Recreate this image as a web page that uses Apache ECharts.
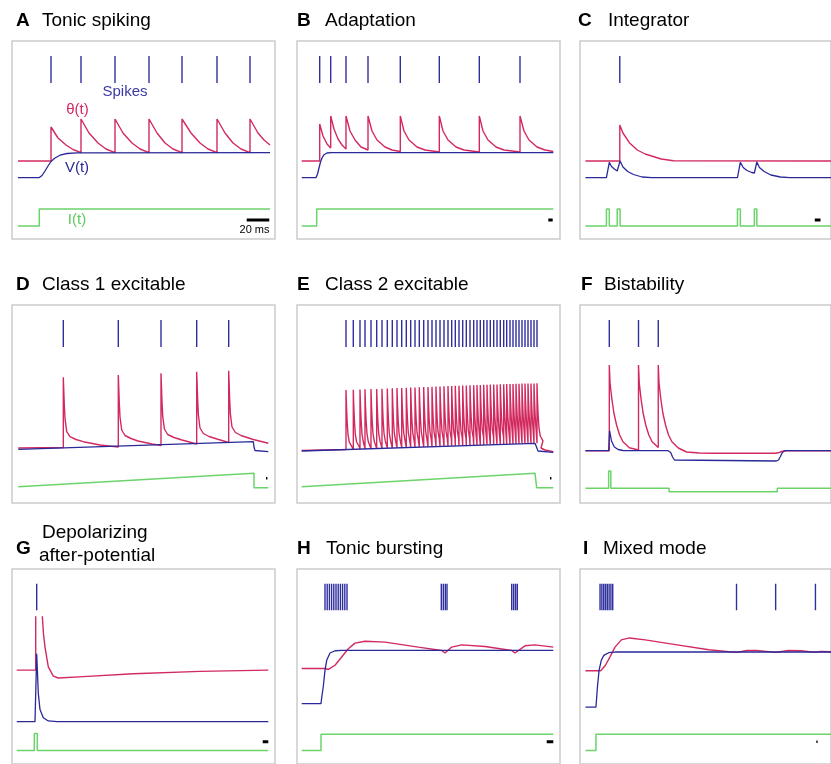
<!DOCTYPE html>
<html>
<head>
<meta charset="utf-8">
<script src="https://cdn.jsdelivr.net/npm/echarts@6/dist/echarts.min.js"></script>
<style>
  html, body { margin: 0; background: #fff; }
  #neuronChart { width: 831px; height: 764px; }
</style>
</head>
<body>
<div id="neuronChart"></div>
<script>
// every trace: [time, value] in panel units (time 0..263, value 0..198)

// A  Tonic spiking
const aSpikes = [39, 69, 103, 137, 170, 205, 238];
const aTheta = [[6, 78], [39, 78], [39, 112], [46, 101], [54, 94], [61, 89.5], [69, 86.3],
  [69, 120], [77, 106], [86, 96], [94, 90], [103, 86.3],
  [103, 120], [111, 106], [120, 96], [128, 90], [137, 86.3],
  [137, 120], [145, 106], [153, 96], [161, 90], [170, 86.3],
  [170, 120], [179, 106], [188, 96], [196, 90], [205, 86.3],
  [205, 120], [213, 106], [221, 96], [229, 90], [238, 86.3],
  [238, 120], [246, 106], [252, 99], [258, 94]];
const aV = [[6, 61.3], [27, 61.3], [30, 63.5], [33, 68], [36, 73], [39, 77.5], [43, 81], [48, 83.8], [55, 85.5], [65, 86.2], [258, 86.3]];
const aI = [[6, 13], [27.3, 13], [27.3, 30], [258, 30]];
const aScale = [[234.7, 19], [257.3, 19]];

// B  Adaptation
const bSpikes = [22.7, 33.7, 49, 71, 103.3, 142.3, 182.3, 223];
const bTheta = [[4.7, 78], [22.7, 78], [22.7, 115], [26, 103], [30, 95], [33.7, 91],
  [33.7, 123], [37, 110], [41, 100], [45, 94], [49, 90],
  [49, 123], [53, 108], [58, 99], [64, 92], [71, 89],
  [71, 123], [75, 108], [80, 99], [88, 92], [95, 89], [103.3, 87.5],
  [103.3, 123], [107, 108], [112, 99], [120, 92], [128, 89], [142.3, 87],
  [142.3, 123], [146, 108], [151, 99], [159, 92], [167, 89], [182.3, 87],
  [182.3, 123], [186, 108], [191, 99], [199, 92], [207, 89], [223, 87],
  [223, 123], [227, 108], [232, 99], [240, 92], [248, 89], [256.3, 87.5]];
const bV = [[4.7, 61.3], [19, 61.3], [20.5, 65], [22, 71], [23.5, 77], [25, 81], [27, 84.3], [30, 86], [34, 86.3], [256.3, 86.3]];
const bI = [[4.7, 13], [19.7, 13], [19.7, 30], [256.3, 30]];
const bScale = [[251.3, 19], [255.7, 19]];

// C  Integrator
const cSpikes = [41.7];
const cTheta = [[5.7, 78], [41.7, 78], [41.7, 114], [45, 106], [51.7, 96.3], [60, 89], [68.3, 85], [85, 80], [98, 78.3], [263, 78]];
const cV = [[5.7, 61.3], [27.7, 61.3], [30.7, 76.7], [33, 72.5], [36, 70], [39, 68], [42, 78], [45, 72], [50, 67.5], [56, 64.5], [65, 62], [75, 61.3],
  [165, 61.3], [168, 76.7], [171, 71.5], [175, 68.5], [180, 66.5], [182.7, 66], [185.3, 77], [188, 71.5], [193, 67.5], [200, 64], [210, 62], [220, 61.3], [263, 61.3]];
const cI = [[5.7, 13], [27.7, 13], [27.7, 30], [30.7, 30], [30.7, 13], [39, 13], [39, 30], [42, 30], [42, 13],
  [165, 13], [165, 30], [168, 30], [168, 13], [182.7, 13], [182.7, 30], [185.3, 30], [185.3, 13], [263, 13]];
const cScale = [[246, 19], [252, 19]];

// D  Class 1 excitable
const dSpikes = [51.3, 106.3, 149, 184.7, 216.7];
const dTheta = [[6.3, 55], [51.3, 55.5], [51.3, 125.7], [52.3, 98], [53, 84.7], [54.7, 71.3], [58, 66.3], [64, 63.5], [71.3, 61.3], [88, 58], [106.3, 56],
  [106.3, 128], [107.3, 100], [108, 86], [109.7, 73], [113, 67.5], [119, 64.5], [126, 62], [140, 59], [149, 57.5],
  [149, 129.7], [150, 101], [150.7, 87], [152.4, 74], [155.7, 68.5], [162, 65.5], [170, 63], [184.7, 59],
  [184.7, 131.3], [185.7, 102], [186.4, 88], [188, 75], [191.4, 69.5], [197, 66.5], [205, 64], [216.7, 60.5],
  [216.7, 132.3], [217.7, 103], [218.4, 89], [220, 76], [223.4, 70.5], [229, 67.5], [241.3, 63.5], [256.3, 59.7]];
const dV = [[6.3, 53.7], [241.3, 61.3], [242, 56], [243, 52.5], [245, 51.3], [256.3, 51.3]];
const dI = [[6.3, 16.3], [242, 29.7], [242, 15.3], [256.3, 15.3]];
const dScale = [[254, 24.7], [255.4, 24.7]];

// E  Class 2 excitable
const eSpikes = [49.0, 56.3, 63.0, 68.0, 74.0, 79.7, 85.0, 90.3, 95.3, 100.0,
  104.7, 109.3, 113.7, 118.0, 122.3, 126.7, 131.0, 135.0, 139.0, 143.0,
  147.0, 151.0, 154.7, 158.3, 162.0, 165.7, 169.3, 173.0, 176.7, 180.0,
  183.3, 186.7, 190.0, 193.3, 196.7, 200.0, 203.3, 206.7, 209.7, 213.0,
  216.0, 219.0, 222.0, 225.0, 228.0, 231.0, 234.0, 237.0, 240.0];
const ePeaks = [113.0, 113.2, 113.5, 113.7, 113.9, 114.1, 114.3, 114.5, 114.7, 114.9,
  115.1, 115.3, 115.5, 115.6, 115.8, 116.0, 116.1, 116.3, 116.4, 116.6,
  116.7, 116.9, 117.0, 117.2, 117.3, 117.4, 117.6, 117.7, 117.8, 117.9,
  118.0, 118.2, 118.3, 118.4, 118.5, 118.6, 118.7, 118.8, 118.9, 119.0,
  119.1, 119.2, 119.3, 119.4, 119.4, 119.5, 119.6, 119.6, 119.7];
const eFloors = [53.5, 53.7, 53.9, 54.1, 54.3, 54.5, 54.7, 54.9, 55.0, 55.2,
  55.3, 55.5, 55.6, 55.8, 55.9, 56.1, 56.2, 56.3, 56.5, 56.6,
  56.7, 56.9, 57.0, 57.1, 57.2, 57.4, 57.5, 57.6, 57.7, 57.8,
  57.9, 58.1, 58.2, 58.3, 58.4, 58.5, 58.6, 58.7, 58.8, 58.9,
  59.0, 59.1, 59.2, 59.3, 59.4, 59.5, 59.6, 59.7, 59.8];
// shape of one threshold decay: [time after spike, share of the jump left]
const eDecay = [[0.5, 0.72], [1.2, 0.45], [2, 0.25], [3.3, 0.12], [6, 0.04]];
const eThetaStart = [[4.7, 52.5]];
const eThetaTail = [[244, 55], [248, 53], [256.3, 51.3]];
const eV = [[4.7, 52], [238, 59.7], [239.5, 56], [241, 52], [243, 50.7], [256.3, 50.7]];
const eI = [[4.7, 16.3], [238, 29.7], [239.7, 29.7], [239.7, 15.3], [256.3, 15.3]];
const eScale = [[253, 24.7], [254.4, 24.7]];

// F  Bistability
const fSpikes = [30.7, 61.3, 82];
const fTheta = [[5.7, 52.3], [30.7, 52.3], [30.7, 138], [31.5, 120], [33.3, 104.7], [35.5, 90], [38.3, 78], [41.5, 68], [45, 61.3], [51.7, 55.3], [61.3, 53],
  [61.3, 138], [62.1, 120], [63.9, 104.7], [66.1, 90], [68.9, 78], [72.1, 68], [75.6, 61.3], [82, 55.5],
  [82, 138], [82.8, 120], [84.6, 104.7], [86.8, 90], [89.6, 78], [92.8, 68], [96.3, 61.3], [103, 55], [111.7, 51], [125, 50], [140, 49.7],
  [205, 49.7], [209, 50.5], [212, 51.8], [215, 52.3], [263, 52.3]];
const fV = [[5.7, 52.3], [30, 52.3], [31, 72.3], [33, 62], [36, 56], [40, 53.5], [45, 52.5], [92.3, 52.3], [95, 50.5], [97, 46], [99, 43], [101, 42],
  [205.7, 42], [208, 43], [210, 46.5], [212, 50.5], [215, 52.3], [263, 52.3]];
const fI = [[5.7, 14.7], [30, 14.7], [30, 32], [32.3, 32], [32.3, 14.7], [93.3, 14.7], [93.3, 11.3], [206.7, 11.3], [206.7, 14.7], [263, 14.7]];

// G  Depolarizing after-potential
const gSpikes = [24.7];
const gTheta = [[4.7, 95.3], [23.7, 95.3], [23.7, 150], [27, '-'], [30.3, 150], [31.5, 132], [33, 118.7], [36.3, 98.7], [41.3, 89.3], [46.3, 87.3],
  [71.3, 88.7], [121.3, 91.7], [188, 94], [256.3, 95.3]];
const gV = [[4.7, 43], [23, 43], [24.7, 112], [26.3, 72], [28, 55.3], [31.3, 47], [36.3, 43.7], [45, 43], [256.3, 43]];
const gI = [[4.7, 13.7], [22.3, 13.7], [22.3, 31], [25.3, 31], [25.3, 13.7], [256.3, 13.7]];
const gScale = [[250.7, 22.7], [256.3, 22.7]];

// H  Tonic bursting
const hSpikes = [28, 30.2, 32.4, 34.6, 36.8, 39, 41.2, 43.4, 45.6, 47.8, 50,
  144.3, 146.3, 148.3, 150, 214.7, 216.6, 218.5, 220.3];
const hTheta = [[4.7, 97], [28, 97], [31.3, 96], [38, 100.3], [44.7, 108.7], [51.3, 117], [58, 122.7], [68, 124.7], [88, 123.7], [121.3, 118.7],
  [144.7, 115.3], [148, 112.7], [154.7, 118.7], [164.7, 121], [188, 119.3], [214.7, 115.3], [218, 112.7], [228, 120], [238, 121], [256.3, 118.7]];
const hV = [[4.7, 61.3], [24, 61.3], [24.8, 68], [26.3, 78.7], [28, 95.3], [29.7, 105.3], [33, 112.7], [38, 115], [45, 115.3], [256.3, 115.3]];
const hI = [[4.7, 13.7], [24, 13.7], [24, 30.3], [256.3, 30.3]];
const hScale = [[249.7, 22.7], [256.3, 22.7]];

// I  Mixed mode
const iSpikes = [21, 22.9, 24.8, 26.7, 28.6, 30.5, 32.4, 34.3, 164, 205, 246.7];
const iTheta = [[5.7, 94.7], [21.7, 94.7], [26.7, 100.3], [31.7, 109.3], [36.7, 118.7], [43.3, 126], [51.7, 128], [68.3, 126], [101.7, 121], [135, 116],
  [164, 113.3], [175, 115.3], [185, 115.3], [205, 113.3], [218.3, 115.3], [231.7, 115], [246.7, 113.3], [251.7, 114.3], [263, 114]];
const iV = [[5.7, 57.7], [16.7, 57.7], [17.5, 68], [18.3, 78.7], [20, 95.3], [22.3, 105.3], [25, 110.3], [30, 113], [36.7, 113.7], [263, 113.7]];
const iI = [[5.7, 13.7], [16.7, 13.7], [16.7, 30.3], [263, 30.3]];
const iScale = [[247.6, 22.7], [249, 22.7]];

// build the dense threshold comb of panel E from its spike table
function buildETheta() {
  const pts = eThetaStart.slice();
  for (let k = 0; k < eSpikes.length; k++) {
    const t = eSpikes[k];
    const next = k + 1 < eSpikes.length ? eSpikes[k + 1] : null;
    const floorNext = next !== null ? eFloors[k + 1] : eFloors[k];
    pts.push([t, eFloors[k]], [t, ePeaks[k]]);
    eDecay.forEach(function (d) {
      if (next === null || t + d[0] < next) {
        pts.push([t + d[0], floorNext + (ePeaks[k] - floorNext) * d[1]]);
      }
    });
  }
  return pts.concat(eThetaTail);
}

const SPIKE_LO = 156, SPIKE_HI = 183;
const BOX_W = 263, BOX_H = 198;
const COL_BLUE = '#2f2f9e', COL_V = '#29299a', COL_THETA = '#d22a5f', COL_I = '#6bd46b';

const panels = [
  { left: 12,  top: 41,  spikes: aSpikes, theta: aTheta, v: aV, cur: aI, scale: aScale, sw: 3 },
  { left: 297, top: 41,  spikes: bSpikes, theta: bTheta, v: bV, cur: bI, scale: bScale, sw: 3 },
  { left: 580, top: 41,  spikes: cSpikes, theta: cTheta, v: cV, cur: cI, scale: cScale, sw: 3 },
  { left: 12,  top: 305, spikes: dSpikes, theta: dTheta, v: dV, cur: dI, scale: dScale, sw: 2.5 },
  { left: 297, top: 305, spikes: eSpikes, theta: buildETheta(), v: eV, cur: eI, scale: eScale, sw: 2.5 },
  { left: 580, top: 305, spikes: fSpikes, theta: fTheta, v: fV, cur: fI, scale: null },
  { left: 12,  top: 569, spikes: gSpikes, theta: gTheta, v: gV, cur: gI, scale: gScale, sw: 3 },
  { left: 297, top: 569, spikes: hSpikes, theta: hTheta, v: hV, cur: hI, scale: hScale, sw: 3 },
  { left: 580, top: 569, spikes: iSpikes, theta: iTheta, v: iV, cur: iI, scale: iScale, sw: 2.5 }
];

const grids = [], xAxes = [], yAxes = [], series = [];

function trace(k, data, color, width) {
  return {
    type: 'line', xAxisIndex: k, yAxisIndex: k, data: data,
    symbol: 'none', showSymbol: false, connectNulls: false, silent: true,
    lineStyle: { color: color, width: width }
  };
}

panels.forEach(function (p, k) {
  grids.push({ left: p.left, top: p.top, width: BOX_W, height: BOX_H, show: true,
    borderColor: '#cccccc', borderWidth: 1.5, backgroundColor: 'transparent' });
  xAxes.push({ type: 'value', gridIndex: k, min: 0, max: BOX_W, show: false });
  yAxes.push({ type: 'value', gridIndex: k, min: 0, max: BOX_H, show: false });

  const raster = [];
  p.spikes.forEach(function (t) { raster.push([t, SPIKE_LO], [t, SPIKE_HI], [t, '-']); });
  series.push(trace(k, raster, COL_BLUE, 1.4));
  series.push(trace(k, p.theta, COL_THETA, 1.4));
  series.push(trace(k, p.v, COL_V, 1.3));
  series.push(trace(k, p.cur, COL_I, 1.5));
  if (p.scale) series.push(trace(k, p.scale, '#000', p.sw));
});

const titleFont = '"Liberation Sans", Arial, sans-serif';
function txt(x, y, s, size, color, bold, align) {
  return { type: 'text', x: x, y: y, silent: true,
    style: { text: s, fill: color || '#000', font: (bold ? 'bold ' : '') + size + 'px ' + titleFont,
      textAlign: align || 'left', textVerticalAlign: 'middle' } };
}

const graphics = [
  txt(16, 21, 'A', 19, '#000', true), txt(42, 21, 'Tonic spiking', 19),
  txt(297, 21, 'B', 19, '#000', true), txt(325, 21, 'Adaptation', 19),
  txt(578, 21, 'C', 19, '#000', true), txt(608, 21, 'Integrator', 19),
  txt(16, 285, 'D', 19, '#000', true), txt(42, 285, 'Class 1 excitable', 19),
  txt(297, 285, 'E', 19, '#000', true), txt(325, 285, 'Class 2 excitable', 19),
  txt(581, 285, 'F', 19, '#000', true), txt(604, 285, 'Bistability', 19),
  txt(16, 549, 'G', 19, '#000', true), txt(42, 533, 'Depolarizing', 19), txt(39, 556, 'after-potential', 19),
  txt(297, 549, 'H', 19, '#000', true), txt(326, 549, 'Tonic bursting', 19),
  txt(583, 549, 'I', 19, '#000', true), txt(603, 549, 'Mixed mode', 19),
  txt(125, 92, 'Spikes', 15, '#3a3aa4', false, 'center'),
  txt(77.5, 110, 'θ(t)', 15, COL_THETA, false, 'center'),
  txt(77, 168, 'V(t)', 15, COL_V, false, 'center'),
  txt(77, 220, 'I(t)', 15, '#5ccc5c', false, 'center'),
  txt(254.5, 230, '20 ms', 11, '#000', false, 'center')
];

const neuronChart = echarts.init(document.getElementById('neuronChart'));
neuronChart.setOption({
  animation: false,
  backgroundColor: '#fff',
  grid: grids,
  xAxis: xAxes,
  yAxis: yAxes,
  series: series,
  graphic: graphics
});
</script>
</body>
</html>
